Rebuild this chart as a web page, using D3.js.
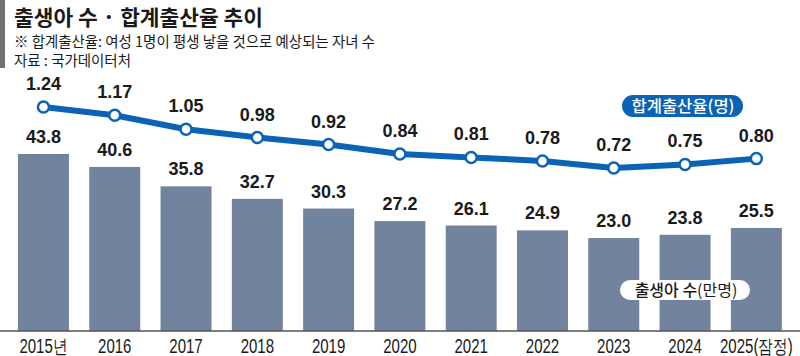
<!DOCTYPE html>
<html><head><meta charset="utf-8">
<script src="https://cdn.jsdelivr.net/npm/d3@7"></script>
<style>
html,body{margin:0;padding:0;background:#fff;}
svg{display:block;}
</style></head>
<body>
<svg id="chart" width="800" height="356"></svg>
<script>
const years = ["2015년","2016","2017","2018","2019","2020","2021","2022","2023","2024","2025(잠정)"];
const births = [43.8,40.6,35.8,32.7,30.3,27.2,26.1,24.9,23.0,23.8,25.5];
const tfr = [1.24,1.17,1.05,0.98,0.92,0.84,0.81,0.78,0.72,0.75,0.80];
const birthLabels = ["43.8","40.6","35.8","32.7","30.3","27.2","26.1","24.9","23.0","23.8","25.5"];
const tfrLabels = ["1.24","1.17","1.05","0.98","0.92","0.84","0.81","0.78","0.72","0.75","0.80"];

const svg = d3.select("#chart");
const KR = "'Noto Sans CJK KR','Noto Sans',sans-serif";
const NUM = "'Liberation Sans',Arial,sans-serif";
const barColor = "#72839d";
const blue = "#0b63b6";

// header
svg.append("rect").attr("x",0).attr("y",0).attr("width",5).attr("height",68).attr("fill","#707070");
svg.append("text").attr("x",14).attr("y",25).attr("font-family",KR).attr("font-weight",700)
  .attr("font-size",21).attr("fill","#1a1a1a").attr("textLength",249).attr("lengthAdjust","spacingAndGlyphs")
  .text("출생아 수 · 합계출산율 추이");
svg.append("text").attr("x",14).attr("y",47).attr("font-family",KR).attr("font-size",15)
  .attr("fill","#1a1a1a").attr("textLength",361).attr("lengthAdjust","spacingAndGlyphs")
  .text("※ 합계출산율: 여성 1명이 평생 낳을 것으로 예상되는 자녀 수");
svg.append("text").attr("x",14).attr("y",66).attr("font-family",KR).attr("font-size",15)
  .attr("fill","#1a1a1a").attr("textLength",117).attr("lengthAdjust","spacingAndGlyphs")
  .text("자료 : 국가데이터처");

const x = d3.scaleBand().domain(years).range([7.8, 792]).paddingInner(0.285).paddingOuter(0.1425);
const y = d3.scaleLinear().domain([0, 43.8]).range([331, 154]);
const y2 = d3.scaleLinear().domain([0.72, 1.24]).range([168, 107]);

// bars
svg.append("g").selectAll("rect").data(births).join("rect")
  .attr("x",(d,i)=>x(years[i])).attr("y",d=>y(d))
  .attr("width",x.bandwidth()).attr("height",d=>y(0)-y(d)).attr("fill",barColor);

svg.append("g").selectAll("text").data(births).join("text")
  .attr("x",(d,i)=>x(years[i])+x.bandwidth()/2).attr("y",d=>y(d)-11)
  .attr("text-anchor","middle").attr("font-family",NUM)
  .attr("font-weight",700).attr("font-size",18).attr("fill","#1a1a1a")
  .text((d,i)=>birthLabels[i]);

// axis
const axis = svg.append("g").attr("transform","translate(0,331)")
  .call(d3.axisBottom(x).tickSize(0).tickPadding(8));
axis.select(".domain").remove();
axis.append("line").attr("x1",0).attr("x2",800).attr("y1",0).attr("y2",0).attr("stroke","#555").attr("stroke-width",1.5);
axis.selectAll(".tick text").attr("font-family",NUM).attr("font-size",19.5).attr("fill","#1a1a1a")
  .attr("transform","scale(0.77,1)");

// line
const cx = i => x(years[i]) + x.bandwidth()/2;
svg.append("path").datum(tfr)
  .attr("d", d3.line().x((d,i)=>cx(i)).y(d=>y2(d)))
  .attr("fill","none").attr("stroke",blue).attr("stroke-width",6).attr("stroke-linejoin","round");
svg.append("g").selectAll("circle").data(tfr).join("circle")
  .attr("cx",(d,i)=>cx(i)).attr("cy",d=>y2(d)).attr("r",5.5)
  .attr("fill","#fff").attr("stroke",blue).attr("stroke-width",2.5);
svg.append("g").selectAll("text").data(tfr).join("text")
  .attr("x",(d,i)=>cx(i)).attr("y",d=>y2(d)-17)
  .attr("text-anchor","middle").attr("font-family",NUM)
  .attr("font-weight",700).attr("font-size",18).attr("fill","#1a1a1a")
  .text((d,i)=>tfrLabels[i]);

// legend pills
svg.append("rect").attr("x",622).attr("y",95).attr("width",121).attr("height",22).attr("rx",11).attr("fill",blue);
svg.append("text").attr("x",683).attr("y",112).attr("text-anchor","middle").attr("font-family",KR)
  .attr("font-weight",500).attr("font-size",16).attr("fill","#fff")
  .attr("textLength",103).attr("lengthAdjust","spacingAndGlyphs").text("합계출산율(명)");
svg.append("rect").attr("x",620).attr("y",280).attr("width",130).attr("height",20).attr("rx",10).attr("fill","#fff");
const t2 = svg.append("text").attr("x",686).attr("y",296).attr("text-anchor","middle").attr("font-family",KR)
  .attr("font-size",16).attr("fill","#1a1a1a");
t2.append("tspan").attr("font-weight",500).text("출생아 수");
t2.append("tspan").attr("font-weight",400).text("(만명)");
</script>
</body></html>
